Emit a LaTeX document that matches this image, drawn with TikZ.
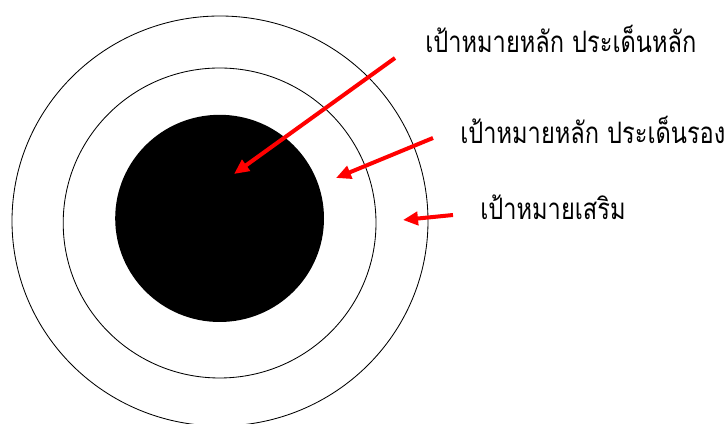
\documentclass[tikz,border=0pt]{standalone}
\usepackage{fontspec}
\newfontfamily\thaifont[Script=Thai,FakeStretch=0.8]{Loma}
\usetikzlibrary{arrows.meta}
\tikzset{
  pointer/.style={-{Triangle[length=0.375cm,width=0.33cm]}, red, line width=0.1cm},
  label/.style={anchor=base west, inner sep=0pt, font=\thaifont\fontsize{21}{25}\selectfont}
}
\begin{document}
\begin{tikzpicture}
\useasboundingbox (0,0) rectangle (18.2,10.6);
% target rings
\draw[line width=0.6pt] (5.5,5.075) ellipse (5.2 and 5.125);
\draw[line width=0.6pt] (5.49,5.025) ellipse (3.91 and 3.875);
\fill[black] (5.49,5.14) ellipse (2.61 and 2.59);
% labels
\node[label] (main) at (10.625,9.275) {เป้าหมายหลัก ประเด็นหลัก};
\node[label] (minor) at (11.5,7.0) {เป้าหมายหลัก ประเด็นรอง};
\node[label] (extra) at (12.0,5.1) {เป้าหมายเสริม};
% arrow ends
\coordinate (mainfrom) at (9.875,9.15);
\coordinate (mainto) at (5.85,6.25);
\coordinate (minorfrom) at (10.825,7.15);
\coordinate (minorto) at (8.4,6.15);
\coordinate (extrafrom) at (11.325,5.225);
\coordinate (extrato) at (10.075,5.1);
\draw[pointer] (mainfrom) -- (mainto);
\draw[pointer] (minorfrom) -- (minorto);
\draw[pointer] (extrafrom) -- (extrato);
\end{tikzpicture}
\end{document}
